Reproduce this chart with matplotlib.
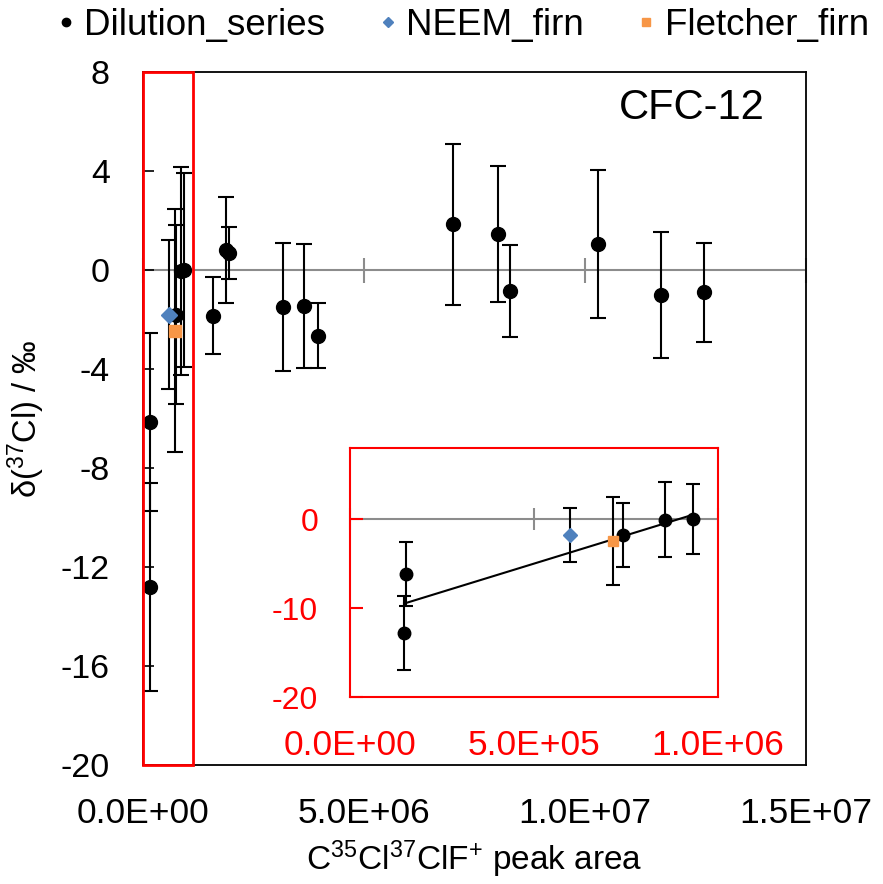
import matplotlib.pyplot as plt
import matplotlib.patches as patches
import numpy as np

plt.rcParams['font.family'] = ['Liberation Sans', 'DejaVu Sans']
plt.rcParams['mathtext.fontset'] = 'custom'
plt.rcParams['mathtext.rm'] = 'Liberation Sans'
plt.rcParams['mathtext.it'] = 'Liberation Sans:italic'
plt.rcParams['axes.unicode_minus'] = False

# Dilution series (peak area, delta 37Cl, 1 sigma)
dil_x = [1.53e5, 1.47e5, 7.41e5, 8.56e5, 9.32e5, 1.577e6, 1.878e6, 1.953e6,
         3.16e6, 3.65e6, 3.95e6, 7.01e6, 8.02e6, 8.30e6, 1.028e7, 1.172e7, 1.269e7]
dil_y = [-6.15, -12.8, -1.8, -0.05, 0.0, -1.85, 0.8, 0.7,
         -1.5, -1.45, -2.65, 1.85, 1.45, -0.85, 1.05, -1.0, -0.9]
dil_err = [3.6, 4.2, 3.6, 4.2, 3.9, 1.55, 2.15, 1.05,
           2.6, 2.5, 1.3, 3.25, 2.75, 1.85, 3.0, 2.55, 2.0]

# Firn samples
neem_x, neem_y, neem_err = [5.97e5], [-1.8], [3.0]
fletcher_x, fletcher_y, fletcher_err = [7.14e5], [-2.45], [4.9]

main_xticks = [0, 5e6, 1e7, 1.5e7]
main_xlabels = ['0.0E+00', '5.0E+06', '1.0E+07', '1.5E+07']
inset_xticks = [0, 5e5, 1e6]
inset_xlabels = ['0.0E+00', '5.0E+05', '1.0E+06']
zoom_xmax = 1.13e6

blue = '#4F81BD'
orange = '#F79646'
red = '#FF0000'
grey = '#8C8C8C'

fig = plt.figure(figsize=(8.83, 8.84), dpi=100)
ax = fig.add_axes([0.162, 0.1346, 0.751, 0.784])


def draw(a, ms, cap):
    eb = dict(fmt='none', ecolor='black', elinewidth=1.5, capsize=cap, capthick=1.5, zorder=3)
    a.errorbar(dil_x, dil_y, yerr=dil_err, **eb)
    a.errorbar(neem_x, neem_y, yerr=neem_err, **eb)
    a.errorbar(fletcher_x, fletcher_y, yerr=fletcher_err, **eb)
    a.plot(dil_x, dil_y, 'o', color='black', ms=ms, zorder=4, label='Dilution_series')
    a.plot(neem_x, neem_y, 'D', color=blue, ms=ms * 0.8, zorder=4, label='NEEM_firn')
    a.plot(fletcher_x, fletcher_y, 's', color=orange, ms=ms * 0.85, zorder=4, label='Fletcher_firn')
    a.axhline(0, color=grey, lw=1.5, zorder=1)


draw(ax, 10, 5.5)
ax.set_xlim(0, 1.5e7)
ax.set_ylim(-20, 8)
ax.set_yticks(range(-20, 9, 4))
ax.set_xticks(main_xticks)
ax.set_xticklabels(main_xlabels)
ax.tick_params(axis='x', length=0, labelsize=25.5, pad=23)
ax.tick_params(axis='y', direction='in', length=8, width=1.2, labelsize=24.5, pad=24)
for s in ax.spines.values():
    s.set_linewidth(1.3)

# tick marks on the zero line
sec = ax.secondary_xaxis(0, transform=ax.transData)
sec.set_xticks(main_xticks)
sec.tick_params(direction='inout', length=18, width=1.5, color=grey, labelbottom=False)
sec.spines['bottom'].set_visible(False)

ax.set_xlabel(r'C$^{35}$Cl$^{37}$ClF$^{+}$ peak area', fontsize=24, labelpad=6)
ax.set_ylabel(r'δ($^{37}$Cl) / ‰', fontsize=23.5, labelpad=10)
ax.text(0.938, 0.948, 'CFC-12', transform=ax.transAxes, fontsize=30, ha='right', va='center')

ax.add_patch(patches.Rectangle((0, -20), zoom_xmax, 28, fill=False, ec=red, lw=2, zorder=5, clip_on=False))

fig.legend(loc='center', bbox_to_anchor=(0.521, 0.9717), ncol=3, frameon=False,
           fontsize=26.5, markerscale=0.6, handletextpad=0.1, columnspacing=1.3,
           handlelength=0.8, borderpad=0, borderaxespad=0)

# inset
ins = fig.add_axes([0.3964, 0.2115, 0.4168, 0.2817])
draw(ins, 9, 5)
low = [i for i, x in enumerate(dil_x) if x < 1e6]
fx = np.array([dil_x[i] for i in low])
fy = np.array([dil_y[i] for i in low])
k, b = np.polyfit(fx, fy, 1)
xs = np.array([fx.min(), fx.max()])
ins.plot(xs, k * xs + b, color='black', lw=1.5, zorder=3)
ins.set_xlim(0, 1e6)
ins.set_ylim(-20, 8)
ins.set_yticks([-20, -10, 0])
ins.set_xticks(inset_xticks)
ins.set_xticklabels(inset_xlabels)
ins.tick_params(axis='x', length=0, labelsize=25.5, labelcolor=red, pad=23)
ins.tick_params(axis='y', direction='in', length=9, width=1.5, color=red, labelcolor=red, labelsize=23, pad=23)
for s in ins.spines.values():
    s.set_color(red)
    s.set_linewidth(1.5)
isec = ins.secondary_xaxis(0, transform=ins.transData)
isec.set_xticks(inset_xticks)
isec.tick_params(direction='inout', length=16, width=1.5, color=grey, labelbottom=False)
isec.spines['bottom'].set_visible(False)

fig.savefig('out.png', dpi=100)
